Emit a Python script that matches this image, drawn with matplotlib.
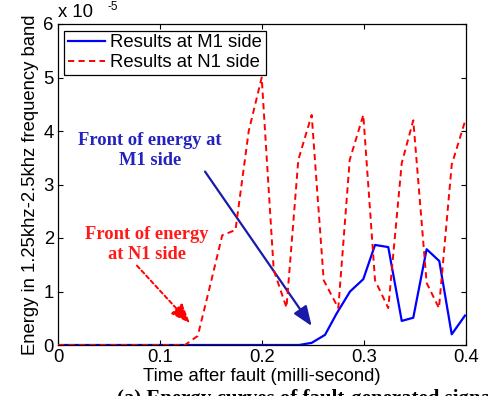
import matplotlib
matplotlib.use("Agg")
import matplotlib.pyplot as plt

# Data (energy in units of 1e-5)
t_m1 = [0.0, 0.2363, 0.2487, 0.2618, 0.2732, 0.2863, 0.2993, 0.3108, 0.3238,
        0.3370, 0.3483, 0.3614, 0.3738, 0.3860, 0.3990]
e_m1 = [0.0, 0.0, 0.04, 0.19, 0.59, 1.00, 1.23, 1.87, 1.83,
        0.45, 0.51, 1.79, 1.57, 0.20, 0.55]

t_n1 = [0.0, 0.1245, 0.1370, 0.1490, 0.1610, 0.1740, 0.1870, 0.1997, 0.2115,
        0.2240, 0.2356, 0.2487, 0.2605, 0.2748, 0.2860, 0.2993, 0.3108, 0.3238,
        0.3370, 0.3483, 0.3614, 0.3735, 0.3860, 0.3990]
e_n1 = [0.0, 0.0, 0.17, 1.10, 2.05, 2.15, 4.00, 5.00, 1.40,
        0.70, 3.46, 4.30, 1.21, 0.69, 3.46, 4.30, 1.21, 0.69,
        3.40, 4.20, 1.16, 0.69, 3.37, 4.18]

xticks = [0, 0.1, 0.2, 0.3, 0.4]
xticklabels = ["0", "0.1", "0.2", "0.3", "0.4"]
yticks = [0, 1, 2, 3, 4, 5, 6]

SANS = "Liberation Sans"
SERIF = "Liberation Serif"
FS = 13.3

fig = plt.figure(figsize=(4.89, 3.96), dpi=100)
ax = fig.add_axes([58/489, 1-345/396, 408/489, 321/396])

ax.plot(t_m1, e_m1, color="#0000ff", lw=1.6, label="Results at M1 side", zorder=3)
ax.plot(t_n1, e_n1, color="#ff0000", lw=1.4, ls=(0, (3.2, 2.2)),
        label="Results at N1 side", zorder=4)

ax.set_xlim(0, 0.4)
ax.set_ylim(0, 6)
ax.set_xticks(xticks)
ax.set_xticklabels(xticklabels)
ax.set_yticks(yticks)
ax.tick_params(direction="in", top=True, right=True, length=3.5, width=0.8,
               labelsize=FS, pad=3.0)
for lab in ax.get_xticklabels() + ax.get_yticklabels():
    lab.set_fontfamily(SANS)
for s in ax.spines.values():
    s.set_linewidth(0.9)

ax.set_xlabel("Time after fault (milli-second)", fontsize=FS, family=SANS, labelpad=1)
ax.set_ylabel("Energy in 1.25khz-2.5khz frequency band", fontsize=FS, family=SANS, labelpad=3)

# offset text
ax.text(0.0, 6.05, "x 10", fontsize=FS, family=SANS, ha="left", va="bottom")
ax.text(0.049, 6.20, "-5", fontsize=8.5, family=SANS, ha="left", va="bottom")

leg = ax.legend(loc="upper left", bbox_to_anchor=(0.0147, 0.979), borderaxespad=0,
                prop={"family": SANS, "size": FS}, fancybox=False, framealpha=1,
                edgecolor="black", handlelength=2.0, handletextpad=0.3,
                labelspacing=0.15, borderpad=0.2)
leg.get_frame().set_linewidth(0.9)

# annotations
ax.annotate("Front of energy at\nM1 side", xy=(0.2487, 0.355), xytext=(0.0902, 3.636),
            ha="center", va="center", color="#2323c0", fontsize=FS, family=SERIF,
            fontweight="bold", linespacing=1.2,
            arrowprops=dict(arrowstyle="-|>,head_length=0.9,head_width=0.35",
                            color="#1a1aaa", lw=1.6, shrinkA=0, shrinkB=0,
                            relpos=(0.87, 0.0)))
ax.annotate("Front of energy\nat N1 side", xy=(0.1294, 0.406), xytext=(0.087, 1.878),
            ha="center", va="center", color="#ff1a1a", fontsize=FS, family=SERIF,
            fontweight="bold", linespacing=1.2,
            arrowprops=dict(arrowstyle="-|>,head_length=0.9,head_width=0.35",
                            color="#ff0000", lw=1.4, ls=(0, (2, 1.5)),
                            shrinkA=0, shrinkB=0, relpos=(0.4, 0.0)))

# caption (cut off at the bottom of the image, as in the reference)
fig.text(117/489, 1-389/396, "(a) Energy curves of fault-generated signals",
         fontsize=15, family=SERIF, fontweight="bold", ha="left", va="top")

fig.savefig("out.png", dpi=100)
